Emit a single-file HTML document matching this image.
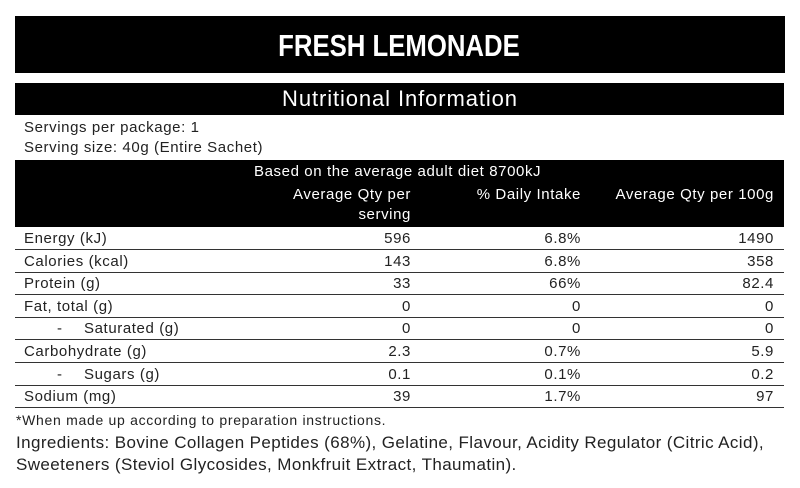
<!DOCTYPE html>
<html><head><style>
body{margin:0;width:800px;height:488px;background:#fff;position:relative;font-family:"Liberation Sans",sans-serif;color:#222;overflow:hidden}
.a{position:absolute;white-space:nowrap}
.blk{position:absolute;background:#000}
.t{font-size:15px;line-height:18px;letter-spacing:0.6px}
.r{text-align:right}
.line{position:absolute;left:15px;width:769px;height:1px;background:#333}
</style></head><body>
<div class="blk" style="left:15px;top:16px;width:770px;height:57px"></div>
<div class="a" style="left:0;width:800px;top:28px;text-align:center;color:#fff;font-weight:bold;font-size:31px;line-height:36px;transform:scaleX(0.83);transform-origin:394px 0">FRESH LEMONADE</div>
<div class="blk" style="left:15px;top:83px;width:769px;height:32px"></div>
<div class="a" style="left:0;width:800px;top:86px;text-align:center;color:#fff;font-size:22px;line-height:26px;letter-spacing:0.9px">Nutritional Information</div>
<div class="a t" style="left:24px;top:119px">Servings per package: 1</div>
<div class="a t" style="left:24px;top:139px">Serving size: 40g (Entire Sachet)</div>
<div class="blk" style="left:15px;top:160px;width:769px;height:67px"></div>
<div class="a t" style="left:254px;top:163px;color:#fff">Based on the average adult diet 8700kJ</div>
<div class="a t r" style="right:389px;top:186px;color:#fff">Average Qty per</div>
<div class="a t r" style="right:389px;top:206px;color:#fff">serving</div>
<div class="a t r" style="right:219px;top:186px;color:#fff">% Daily Intake</div>
<div class="a t r" style="right:26px;top:186px;color:#fff">Average Qty per 100g</div>
<div id="rows"></div>
<div class="a" style="left:16px;top:412px;font-size:14px;line-height:16px;letter-spacing:0.7px">*When made up according to preparation instructions.</div>
<div class="a" style="left:16px;top:432px;font-size:17px;line-height:22px;letter-spacing:0.4px">Ingredients: Bovine Collagen Peptides (68%), Gelatine, Flavour, Acidity Regulator (Citric Acid),<br>Sweeteners (Steviol Glycosides, Monkfruit Extract, Thaumatin).</div>
<script>
var d=[["Energy (kJ)","596","6.8%","1490",0],["Calories (kcal)","143","6.8%","358",0],["Protein (g)","33","66%","82.4",0],["Fat, total (g)","0","0","0",0],["Saturated (g)","0","0","0",1],["Carbohydrate (g)","2.3","0.7%","5.9",0],["Sugars (g)","0.1","0.1%","0.2",1],["Sodium (mg)","39","1.7%","97",0]];
var h="";
for(var i=0;i<8;i++){var y=227+i*22.6;var r=d[i];
if(r[4])h+='<div class="a t" style="left:57px;top:'+(y+3)+'px">-</div><div class="a t" style="left:84px;top:'+(y+3)+'px">'+r[0]+'</div>';
else h+='<div class="a t" style="left:24px;top:'+(y+3)+'px">'+r[0]+'</div>';
h+='<div class="a t r" style="right:389px;top:'+(y+3)+'px">'+r[1]+'</div>';
h+='<div class="a t r" style="right:219px;top:'+(y+3)+'px">'+r[2]+'</div>';
h+='<div class="a t r" style="right:26px;top:'+(y+3)+'px">'+r[3]+'</div>';
h+='<div class="line" style="top:'+Math.round(y+22)+'px"></div>';}
document.getElementById("rows").innerHTML=h;
</script>
</body></html>
